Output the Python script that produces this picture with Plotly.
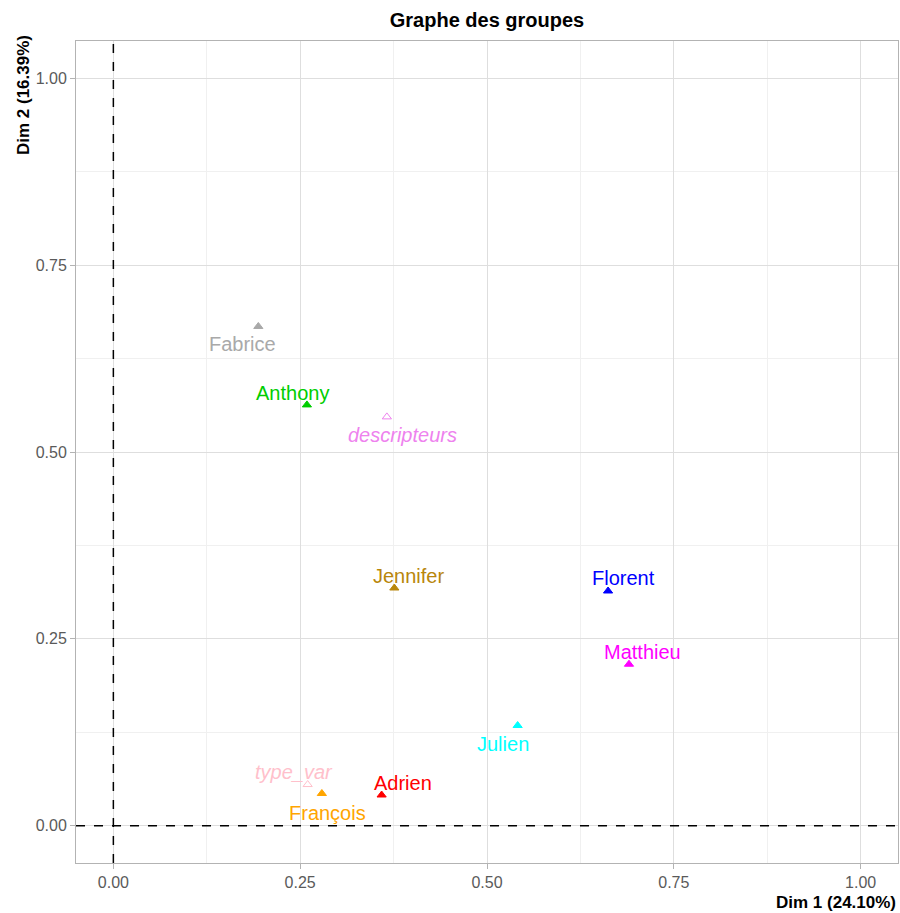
import plotly.graph_objects as go

# ---- data ----
groups = ["Fabrice", "Anthony", "descripteurs", "Jennifer", "Florent",
          "Matthieu", "Julien", "type_var", "François", "Adrien"]
dim1 = [0.194, 0.259, 0.366, 0.376, 0.662, 0.690, 0.541, 0.260, 0.279, 0.359]
dim2 = [0.668, 0.563, 0.547, 0.318, 0.314, 0.216, 0.134, 0.055, 0.043, 0.041]
supplementary = [False, False, True, False, False, False, False, True, False, False]
colors = ["#A9A9A9", "#00CD00", "#EE82EE", "#B8860B", "#0000FF",
          "#FF00FF", "#00FFFF", "#FFC0CB", "#FFA500", "#FF0000"]
x_ticks = [0.0, 0.25, 0.5, 0.75, 1.0]
x_ticklabels = ["0.00", "0.25", "0.50", "0.75", "1.00"]
y_ticks = [0.0, 0.25, 0.5, 0.75, 1.0]
y_ticklabels = ["0.00", "0.25", "0.50", "0.75", "1.00"]

# label placement (pixel offsets, like ggrepel)
label_shift = {
    "Fabrice": (-16, -18), "Anthony": (-14, 12), "descripteurs": (16, -18),
    "Jennifer": (14, 12), "Florent": (15, 13), "Matthieu": (14, 12),
    "Julien": (-15, -18), "type_var": (-14, 13), "François": (6, -19),
    "Adrien": (21, 12),
}

FONT = "Liberation Sans, Arial, sans-serif"
W, H = 900, 913
fig = go.Figure()

for name, x, y, sup, c in zip(groups, dim1, dim2, supplementary, colors):
    fig.add_trace(go.Scatter(
        x=[x], y=[y], mode="markers", name=name, showlegend=False,
        marker=dict(symbol="triangle-up-open" if sup else "triangle-up",
                    size=8, color=c, line=dict(color=c, width=1)),
        hoverinfo="text", text=[name]))
    dx, dy = label_shift[name]
    fig.add_annotation(x=x, y=y, xref="x", yref="y", text=f"<i>{name}</i>" if sup else name,
                       showarrow=False, xshift=dx, yshift=dy,
                       font=dict(family=FONT, size=20, color=c))

fig.add_hline(y=0, line=dict(color="black", width=1.5, dash="dash"))
fig.add_vline(x=0, line=dict(color="black", width=1.5, dash="dash"))

axis_common = dict(
    range=[-0.05, 1.05], showgrid=True, gridcolor="#DEDEDE", gridwidth=1,
    zeroline=False, showline=True, linecolor="#B3B3B3", linewidth=1, mirror=True,
    ticks="outside", ticklen=5, tickcolor="#B3B3B3", automargin=False,
    tickfont=dict(family=FONT, size=16, color="#5A5A5A"),
    minor=dict(dtick=0.125, tick0=0, showgrid=True, gridcolor="#F0F0F0", gridwidth=1),
)
fig.update_xaxes(**axis_common, tickvals=x_ticks, ticktext=x_ticklabels)
fig.update_yaxes(**axis_common, tickvals=y_ticks, ticktext=y_ticklabels)

fig.add_annotation(xref="paper", yref="paper", x=1.0, y=-0.0486,
                   xanchor="right", yanchor="middle", showarrow=False,
                   text="<b>Dim 1 (24.10%)</b>",
                   font=dict(family=FONT, size=17, color="black"))
fig.add_annotation(xref="paper", yref="paper", x=-0.0645, y=1.0097,
                   xanchor="center", yanchor="top", showarrow=False, textangle=-90,
                   text="<b>Dim 2 (16.39%)</b>",
                   font=dict(family=FONT, size=17, color="black"))

fig.update_layout(
    width=W, height=H,
    margin=dict(l=76, r=2, t=41, b=50, autoexpand=False),
    paper_bgcolor="white", plot_bgcolor="white",
    title=dict(text="<b>Graphe des groupes</b>", x=0.5, xref="paper", xanchor="center",
               y=1 - 20 / H, yref="container", yanchor="middle",
               font=dict(family=FONT, size=20, color="black")),
)

post = (
    "document.body.style.margin='0';"
    "document.body.style.overflow='hidden';"
    "var gd=document.getElementById('{plot_id}');"
    "gd.style.width='900px';gd.style.height='913px';"
    "Plotly.relayout(gd,{width:900,height:913});"
)
fig.write_html("out.html", post_script=post, config={"displayModeBar": False})
